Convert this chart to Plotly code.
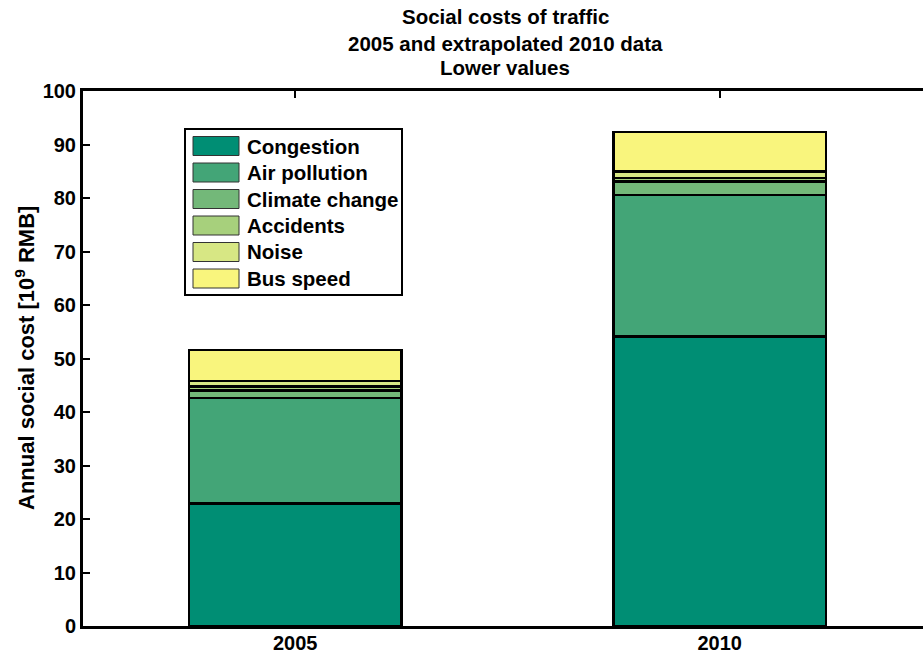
import plotly.graph_objects as go

# Social costs of traffic (10^9 RMB), lower estimates
years = ["2005", "2010"]
categories = ["Congestion", "Air pollution", "Climate change", "Accidents", "Noise", "Bus speed"]
congestion = [22.9, 54.1]
air_pollution = [19.7, 26.5]
climate_change = [1.4, 2.5]
accidents = [0.8, 0.6]
noise = [1.0, 1.3]
bus_speed = [5.8, 7.3]
series = [congestion, air_pollution, climate_change, accidents, noise, bus_speed]
colors = ["#008e74", "#43a577", "#73b879", "#a7d07c", "#d7e784", "#f9f57d"]

FONT = "Liberation Sans"
W, H = 923, 653
L, R, T, B = 83, 0, 91, 27
PW, PH = W - L - R, H - T - B

xpos = [1, 2]
slot_px = 424.5  # pixel distance between the two bar slots
xrange_ = [0.5, 0.5 + PW / slot_px]


def px_x(px):
    return (px - L) / PW


def px_y(py):
    return (H - B - py) / PH


fig = go.Figure()
for name, vals, col in zip(categories, series, colors):
    fig.add_trace(go.Bar(
        x=xpos, y=vals, name=name, width=0.5,
        marker=dict(color=col, line=dict(color="black", width=2.5)),
        showlegend=False,
    ))

fig.update_layout(
    width=W, height=H,
    margin=dict(l=L, r=R, t=T, b=B, autoexpand=False),
    barmode="stack",
    plot_bgcolor="white", paper_bgcolor="white",
    font=dict(family=FONT, size=20, color="black"),
)

fig.update_xaxes(
    range=xrange_, automargin=False,
    tickmode="array", tickvals=xpos, ticktext=years,
    ticks="", showline=True, linewidth=3, linecolor="black", mirror=False,
    showgrid=False, zeroline=False, layer="below traces",
    tickfont=dict(family=FONT, size=20, color="black", weight="bold"),
    ticklabelstandoff=-3,
)
# Top frame line with inward ticks at the year positions
fig.update_layout(xaxis2=dict(
    overlaying="x", side="top", anchor="y", range=xrange_, automargin=False,
    tickmode="array", tickvals=xpos, showticklabels=False,
    ticks="inside", ticklen=7, tickwidth=2, tickcolor="black",
    showline=True, linewidth=3, linecolor="black",
    showgrid=False, zeroline=False,
))
fig.add_trace(go.Scatter(x=[], y=[], xaxis="x2", showlegend=False, hoverinfo="skip"))

fig.update_yaxes(
    range=[0, 100], dtick=10, automargin=False,
    ticks="inside", ticklen=7, tickwidth=2, tickcolor="black",
    showline=True, linewidth=3, linecolor="black", mirror=False,
    showgrid=False, zeroline=False,
    tickfont=dict(family=FONT, size=20, color="black", weight="bold"),
    ticklabelstandoff=0,
)

annotations = []
# Title lines
for text, yc in zip(["Social costs of traffic", "2005 and extrapolated 2010 data", "Lower values"],
                    [17, 43, 68]):
    annotations.append(dict(
        text=text, xref="paper", yref="paper", x=px_x(505), y=px_y(yc),
        xanchor="center", yanchor="middle", showarrow=False,
        font=dict(family=FONT, size=20.5, color="black", weight="bold"),
    ))

# Y axis title
annotations.append(dict(
    text="Annual social cost [10<sup>9</sup> RMB]", xref="paper", yref="paper",
    x=px_x(25), y=px_y(358), xanchor="center", yanchor="middle",
    textangle=-90, showarrow=False,
    font=dict(family=FONT, size=22, color="black", weight="bold"),
))

# Blank strip along the open right side of the axes box
shapes = [dict(
    type="rect", xref="paper", yref="paper",
    x0=px_x(W - 6), x1=1.0, y0=px_y(H - B - 2), y1=px_y(T + 2),
    line=dict(width=0), fillcolor="white", layer="above",
)]

# Legend box with swatches
shapes.append(dict(
    type="rect", xref="paper", yref="paper",
    x0=px_x(185), x1=px_x(402), y0=px_y(295), y1=px_y(129),
    line=dict(color="black", width=2), fillcolor="white", layer="above",
))
row_centers = [146, 172.5, 199, 225.5, 252, 278.5]
for name, col, yc in zip(categories, colors, row_centers):
    shapes.append(dict(
        type="rect", xref="paper", yref="paper",
        x0=px_x(193), x1=px_x(239), y0=px_y(yc + 9.5), y1=px_y(yc - 9.5),
        line=dict(color="#333333", width=1), fillcolor=col, layer="above",
    ))
    annotations.append(dict(
        text=name, xref="paper", yref="paper", x=px_x(245), y=px_y(yc),
        xanchor="left", yanchor="middle", showarrow=False,
        font=dict(family=FONT, size=20.5, color="black", weight="bold"),
    ))

fig.update_layout(shapes=shapes, annotations=annotations)

fig.write_html("out.html")
